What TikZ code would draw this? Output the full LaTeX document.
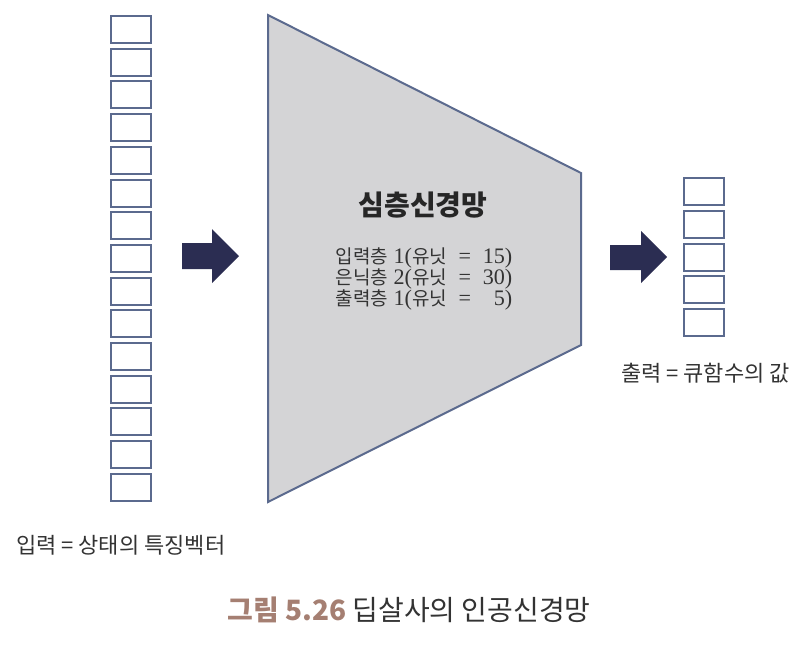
\documentclass[tikz,border=0pt]{standalone}
\usepackage{fontspec}
\setmainfont{Liberation Serif}[Scale=1.08]
\newfontfamily\kr{Noto Sans CJK KR}
\newcommand{\K}[1]{{\kr\fontsize{19}{21}\selectfont #1}}
\definecolor{cellc}{HTML}{5B6A8E}
\definecolor{trapfill}{HTML}{D4D4D6}
\definecolor{arrowc}{HTML}{2B2D52}
\definecolor{capc}{HTML}{A57F72}
\definecolor{txt}{HTML}{333333}
\tikzset{
  cell/.style={draw=cellc, line width=2pt, fill=white, minimum width=40pt, minimum height=27pt, inner sep=0pt},
  trap/.style={draw=cellc, line width=2pt, fill=trapfill, line join=miter},
  blockarrow/.style={fill=arrowc},
  lbl/.style={text=txt, inner sep=0pt, font=\kr\fontsize{22}{24}\selectfont}
}
\begin{document}
\begin{tikzpicture}[x=1pt,y=-1pt]
\useasboundingbox (0,0) rectangle (804,662);
% input vector
\foreach \i in {0,...,14} {
  \node[cell] (in\i) at (131,{29.5+\i*32.7}) {};
}
% network trapezoid
\coordinate (t1) at (268,15);
\coordinate (t2) at (581,173);
\coordinate (t3) at (581,345);
\coordinate (t4) at (268,502);
\draw[trap] (t1) -- (t2) -- (t3) -- (t4) -- cycle;
% output vector
\foreach \i in {0,...,4} {
  \node[cell] (out\i) at (704,{191.5+\i*32.75}) {};
}
% block arrows
\fill[blockarrow] (182,243) -- (212,243) -- (212,229) -- (239,256) -- (212,283) -- (212,269) -- (182,269) -- cycle;
\fill[blockarrow] (610,245) -- (641,245) -- (641,231) -- (667,257) -- (641,283) -- (641,270) -- (610,270) -- cycle;
% texts
\node[text=black!85, inner sep=0pt, font=\kr\bfseries\fontsize{28}{32}\selectfont] (title) at (423,205) {심층신경망};
\node[text=txt, inner sep=0pt, align=center, font={\fontsize{20.5}{21}\selectfont\lineskiplimit=-30pt}] (layers) at (424,279)
  {\K{입력층} 1(\K{유닛} \;=\; 15)\\ \K{은닉층} 2(\K{유닛} \;=\; 30)\\ \K{출력층} 1(\K{유닛} \;=\; \phantom{1}5)};
\node[lbl, anchor=west] (inlbl) at (16,545) {입력 = 상태의 특징벡터};
\node[lbl, anchor=west] (outlbl) at (621,373) {출력 = 큐함수의 값};
\node[inner sep=0pt, font=\kr\fontsize{28}{32}\selectfont] (cap) at (409,610)
  {\textcolor{capc}{\bfseries 그림 5.26} \textcolor{txt}{딥살사의 인공신경망}};
\end{tikzpicture}
\end{document}
